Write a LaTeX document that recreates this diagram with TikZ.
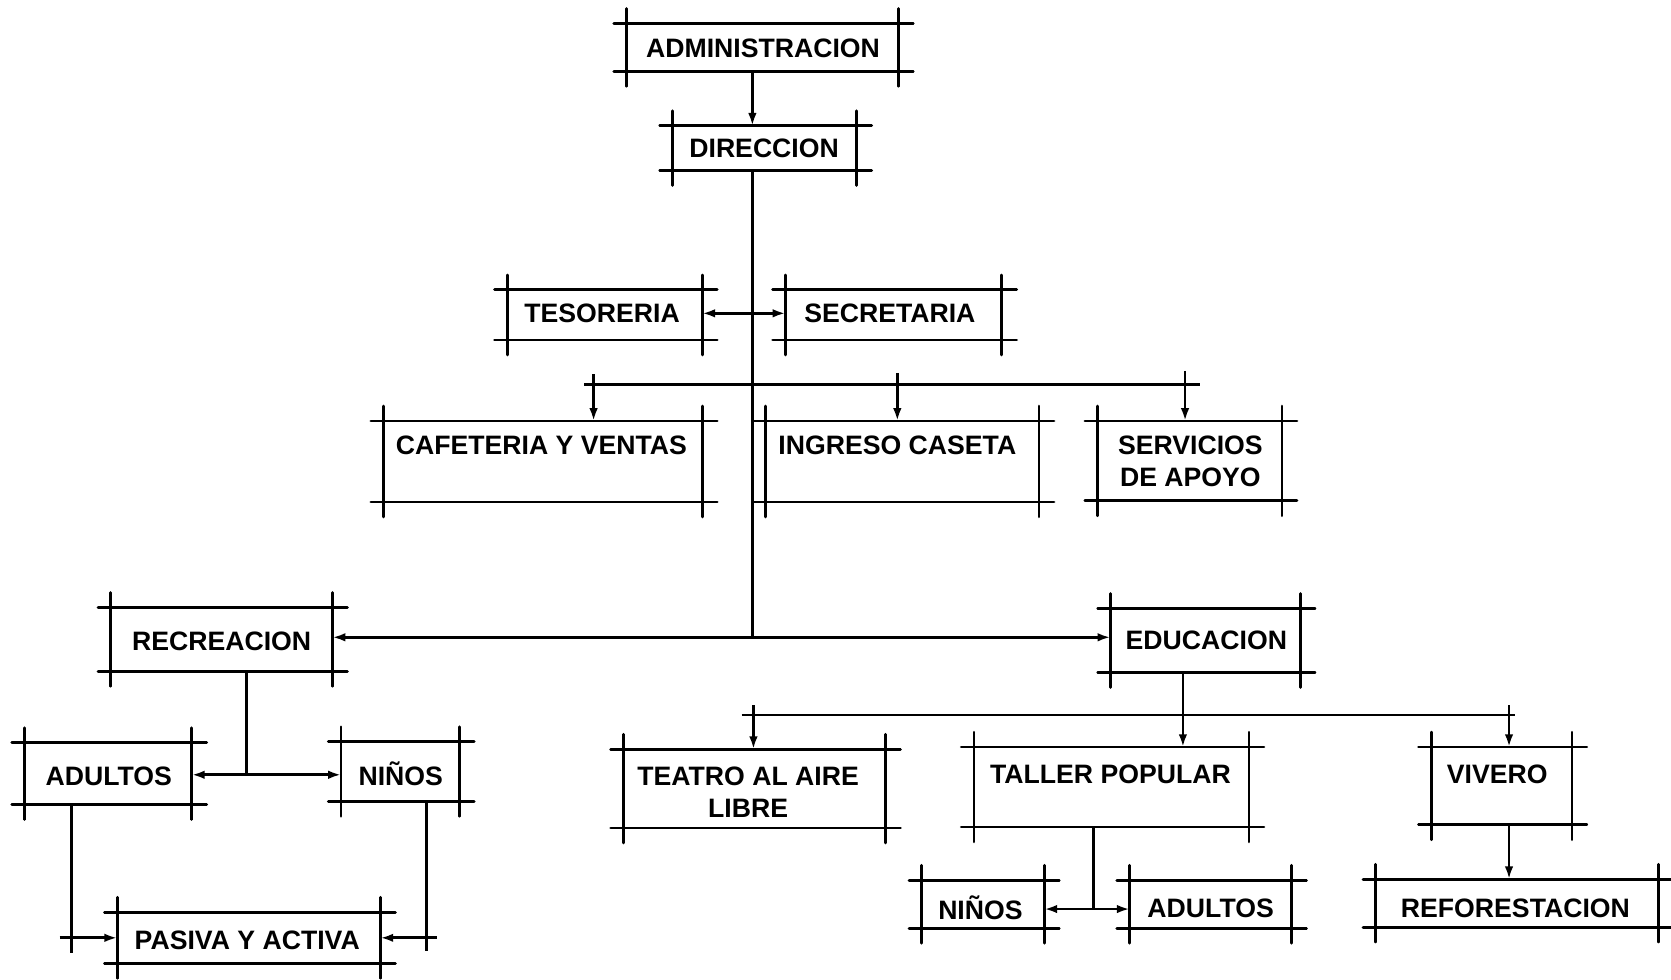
\documentclass[tikz,border=0pt]{standalone}
\usepackage{fontspec}
\setmainfont{Liberation Sans}
\usetikzlibrary{arrows.meta}
\tikzset{
  boxn/.style={draw=none, inner sep=0pt, outer sep=0pt},
  boxline/.style={line width=2.6pt, line cap=round},
  lab/.style={font=\fontsize{25}{30}\selectfont\bfseries, inner sep=0pt, align=center},
  conn/.style={line width=2.6pt},
  tip/.style={-{Latex[length=12pt,width=8pt]}},
}
\newcommand\dbox[5]{%
  \node[boxn, minimum width={(#4)-(#2)}, minimum height={(#5)-(#3)}] (#1) at ({((#2)+(#4))/2},{((#3)+(#5))/2}) {};
  \draw[boxline] ([xshift=-12pt]#1.north west) -- ([xshift=14pt]#1.north east);
  \draw[boxline] ([xshift=-12pt]#1.south west) -- ([xshift=14pt]#1.south east);
  \draw[boxline] ([yshift=14pt]#1.north west) -- ([yshift=-14pt]#1.south west);
  \draw[boxline] ([yshift=14pt]#1.north east) -- ([yshift=-14pt]#1.south east);
}
\begin{document}
\begin{tikzpicture}[x=1pt,y=-1pt]
\fill[white] (0,0) rectangle (1568,919);
\useasboundingbox (0,0) rectangle (1568,919);

% boxes
\dbox{admin}{588}{22}{843}{67}
\dbox{dir}{631}{118}{804}{160}
\dbox{teso}{476}{272}{659}{319}
\dbox{secre}{737}{272}{940}{319}
\dbox{cafe}{360}{395}{659}{471}
\dbox{ingr}{718}{395}{975}{471}
\dbox{serv}{1030}{395}{1203}{470}
\dbox{recr}{104}{570}{312}{630}
\dbox{edu}{1042}{571}{1220}{631}
\dbox{teatro}{585}{703}{831}{777}
\dbox{taller}{914}{701}{1172}{776}
\dbox{vivero}{1343}{701}{1475}{774}
\dbox{adulA}{23}{697}{180}{755}
\dbox{ninA}{320}{696}{431}{752}
\dbox{pasiva}{110}{856}{357}{904}
\dbox{ninB}{865}{826}{980}{871}
\dbox{adulB}{1060}{826}{1212}{871}
\dbox{refo}{1291}{825}{1556}{870}

% texts
\node[lab] (admin-t) at (716,45) {ADMINISTRACION};
\node[lab] (dir-t) at (717,139) {DIRECCION};
\node[lab] (teso-t) at (565,294) {TESORERIA};
\node[lab] (secre-t) at (835,294) {SECRETARIA};
\node[lab] (cafe-t) at (508,418) {CAFETERIA Y VENTAS};
\node[lab] (ingr-t) at (842,418) {INGRESO CASETA};
\node[lab] (serv-t) at (1117,433) {SERVICIOS\\DE APOYO};
\node[lab] (recr-t) at (208,602) {RECREACION};
\node[lab] (edu-t) at (1132,601) {EDUCACION};
\node[lab] (teatro-t) at (702,743) {TEATRO AL AIRE\\LIBRE};
\node[lab] (taller-t) at (1042,727) {TALLER POPULAR};
\node[lab] (vivero-t) at (1405,727) {VIVERO};
\node[lab] (adulA-t) at (102,728) {ADULTOS};
\node[lab] (ninA-t) at (376,726) {NIÑOS};
\node[lab] (pasiva-t) at (232,882) {PASIVA Y ACTIVA};
\node[lab] (ninB-t) at (920,852) {NIÑOS};
\node[lab] (adulB-t) at (1136,852) {ADULTOS};
\node[lab] (refo-t) at (1422,852) {REFORESTACION};

% junction coordinates
\coordinate (trk) at (706,0);
\coordinate (jt) at (706,294);
\coordinate (j1) at (706,598);
\coordinate (b1l) at (548,361);
\coordinate (b1r) at (1126,361);
\coordinate (d1) at (557,351);
\coordinate (d2) at (842,350);
\coordinate (d3) at (1112,348);
\coordinate (b2l) at (696,671);
\coordinate (b2r) at (1422,671);
\coordinate (e1) at (707,662);
\coordinate (e2) at (1110,0);
\coordinate (e3) at (1416,662);
\coordinate (rx) at (231,0);
\coordinate (j2) at (231,727);
\coordinate (ax) at (67,0);
\coordinate (aend) at (67,894);
\coordinate (p1) at (56,880);
\coordinate (nx) at (400,0);
\coordinate (nend) at (400,892);
\coordinate (p2) at (410,880);
\coordinate (tx) at (1026,0);
\coordinate (j3) at (1026,853);
\coordinate (vx) at (1416,0);

% connectors
\draw[conn,tip] (admin.south -| trk) -- (dir.north -| trk);
\draw[conn] (dir.south -| trk) -- (j1);
\draw[conn,tip] (jt) -- (teso.east |- jt);
\draw[conn,tip] (jt) -- (secre.west |- jt);
\draw[conn] (b1l) -- (b1r);
\draw[conn,tip] (d1) -- (d1 |- cafe.north);
\draw[conn,tip] (d2) -- (d2 |- ingr.north);
\draw[conn,tip] (d3) -- (d3 |- serv.north);
\draw[conn,tip] (j1) -- (recr.east |- j1);
\draw[conn,tip] (j1) -- (edu.west |- j1);
\draw[conn,tip] (edu.south -| e2) -- (taller.north -| e2);
\draw[conn] (b2l) -- (b2r);
\draw[conn,tip] (e1) -- (e1 |- teatro.north);
\draw[conn,tip] (e3) -- (e3 |- vivero.north);
\draw[conn] (recr.south -| rx) -- (j2);
\draw[conn,tip] (j2) -- (adulA.east |- j2);
\draw[conn,tip] (j2) -- (ninA.west |- j2);
\draw[conn] (adulA.south -| ax) -- (aend);
\draw[conn,tip] (p1) -- (pasiva.west |- p1);
\draw[conn] (ninA.south -| nx) -- (nend);
\draw[conn,tip] (p2) -- (pasiva.east |- p2);
\draw[conn] (taller.south -| tx) -- (j3);
\draw[conn,tip] (j3) -- (ninB.east |- j3);
\draw[conn,tip] (j3) -- (adulB.west |- j3);
\draw[conn,tip] (vivero.south -| vx) -- (refo.north -| vx);
\end{tikzpicture}
\end{document}
